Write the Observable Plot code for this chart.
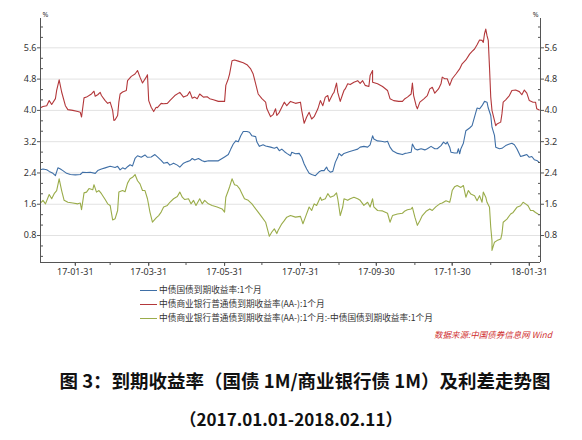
<!DOCTYPE html>
<html><head><meta charset="utf-8">
<script src="https://cdn.jsdelivr.net/npm/d3@7"></script>
<script src="https://cdn.jsdelivr.net/npm/@observablehq/plot@0.6"></script>
<style>
body{margin:0;background:#fff;}
#wrap{position:relative;width:582px;height:440px;overflow:hidden;background:#fff;font-family:"Noto Sans CJK SC","Noto Sans",sans-serif;}
#chart{position:absolute;left:0;top:0;}
.leg{position:absolute;left:140px;font-size:8.7px;line-height:10px;color:#333;white-space:nowrap;display:flex;align-items:center;}
.leg i{display:inline-block;width:17px;height:0;border-top:1px solid;margin-right:2px;}
#src{position:absolute;right:30px;top:328px;font-size:8.5px;color:#d03030;font-style:italic;white-space:nowrap;}
.ttl{position:absolute;left:0;width:582px;text-align:center;font-weight:bold;color:#111;white-space:nowrap;}
</style></head>
<body><div id="wrap"><div id="chart"></div></div>
<script>
// Day numbers are days counted in 2017 (1 = 2017-01-01; 366 = 2018-01-01)
const seriesNames = [
  "中债国债到期收益率:1个月",
  "中债商业银行普通债到期收益率(AA-):1个月",
  "中债商业银行普通债到期收益率(AA-):1个月:-中债国债到期收益率:1个月"
];
const seriesColors = ["#3f6fa6", "#b3383b", "#9aac4a"];

const govt1M = [[3,2.48],[5,2.50],[8,2.48],[10,2.44],[13,2.39],[15,2.33],[17,2.53],[19,2.50],[21,2.46],[24,2.39],[27,2.36],[31,2.35],[35,2.36],[37,2.42],[40,2.41],[43,2.42],[47,2.39],[49,2.46],[52,2.50],[55,2.53],[59,2.57],[63,2.54],[65,2.57],[67,2.48],[69,2.53],[71,2.50],[73,2.56],[75,2.61],[77,2.58],[79,2.77],[81,2.84],[84,2.80],[87,2.86],[89,2.80],[92,2.81],[95,2.87],[97,2.81],[100,2.72],
[102,2.65],[105,2.67],[107,2.60],[110,2.65],[113,2.60],[115,2.55],[118,2.65],[121,2.69],[123,2.71],[125,2.77],[127,2.73],[130,2.77],[133,2.71],[135,2.69],[138,2.71],[142,2.71],[146,2.71],[149,2.77],[151,2.81],[154,2.87],[156,3.01],[158,3.14],[160,3.22],[162,3.20],[164,3.35],[166,3.46],[169,3.46],[171,3.44],[173,3.35],[176,3.33],[177,3.19],[179,3.08],[182,3.12],[184,3.09],[188,3.06],[191,3.03],[193,3.06],[195,2.97],[197,3.01],[199,2.95],
[201,2.90],[204,2.84],[205,2.93],[208,2.89],[211,2.90],[213,2.80],[215,2.63],[217,2.50],[219,2.39],[221,2.36],[224,2.33],[227,2.43],[229,2.46],[231,2.46],[233,2.55],[234,2.48],[236,2.42],[238,2.44],[240,2.67],[242,2.81],[243,2.90],[245,2.84],[247,2.90],[251,2.94],[255,2.98],[258,3.01],[260,3.06],[263,3.08],[266,3.06],[268,3.12],[270,3.35],[271,3.27],[274,3.22],[277,3.21],[280,3.19],[282,3.21],[284,3.06],[286,2.97],[290,2.90],[294,2.87],[296,2.90],
[298,2.91],[301,2.93],[302,3.14],[304,3.02],[306,2.99],[309,3.02],[312,2.99],[314,3.02],[317,3.08],[320,3.02],[322,3.02],[325,3.10],[327,3.19],[329,3.14],[330,3.19],[332,3.06],[333,2.93],[336,2.91],[338,2.91],[339,3.02],[340,2.89],[341,3.02],[343,3.16],[345,3.48],[348,3.55],[350,3.61],[353,3.95],[354,4.06],[356,4.04],[358,4.12],[360,4.23],[362,4.21],[363,4.06],[365,3.87],[366,3.57],[368,3.36],[369,3.06],[372,3.02],[374,3.03],[377,3.10],[380,3.14],[382,3.16],[384,3.12],[386,3.02],[389,2.82],[392,2.85],[394,2.87],[396,2.80],[398,2.82],[400,2.74],[402,2.72],[404,2.67]];

const bank1M = [[3,4.07],[5,4.10],[8,4.12],[10,4.25],[12,4.15],[15,4.30],[16,4.51],[18,4.78],[20,4.47],[23,4.12],[25,4.02],[29,4.00],[33,3.97],[35,3.95],[36,3.83],[38,4.32],[40,4.34],[43,4.40],[44,4.42],[46,4.49],[47,4.36],[49,4.40],[51,4.46],[52,4.38],[55,4.25],[57,4.18],[59,4.21],[61,4.00],[62,3.74],[63,3.76],[65,3.87],[66,4.21],[67,4.42],[69,4.47],[72,4.51],[73,4.76],[76,4.87],[79,4.93],[81,5.02],[83,4.85],[85,4.70],[88,4.85],[89,4.91],[90,4.25],[92,4.08],[94,3.97],[96,4.08],[97,4.07],[100,4.18],
[102,4.17],[105,4.18],[107,4.25],[111,4.38],[115,4.46],[118,4.34],[121,4.38],[123,4.48],[125,4.31],[127,4.34],[129,4.30],[131,4.42],[134,4.34],[137,4.35],[139,4.30],[142,4.27],[146,4.23],[151,4.23],[152,4.64],[154,4.81],[155,4.93],[157,5.27],[159,5.29],[162,5.26],[166,5.22],[169,5.17],[172,5.06],[174,4.93],[176,4.68],[178,4.42],[181,4.30],[184,4.21],[185,4.04],[188,3.84],[190,3.89],[192,4.04],[193,3.87],[195,3.95],[197,4.08],[199,4.21],
[201,4.12],[204,4.23],[208,4.18],[212,4.21],[213,4.00],[215,3.67],[217,3.83],[219,3.95],[221,3.78],[223,3.84],[226,4.04],[228,4.25],[230,4.12],[232,4.34],[234,4.38],[235,4.23],[238,4.42],[239,4.46],[241,4.70],[242,4.46],[244,4.23],[246,4.42],[247,4.51],[248,4.55],[250,4.68],[252,4.66],[255,4.72],[258,4.76],[260,4.69],[262,4.76],[264,4.64],[267,4.61],[268,4.89],[270,5.02],[270,4.72],[274,4.68],[278,4.61],[282,4.51],[284,4.30],[287,4.25],[291,4.23],[294,4.23],[296,4.30],
[298,4.34],[301,4.42],[302,4.70],[303,4.38],[305,4.12],[306,4.04],[308,4.21],[311,4.29],[314,4.38],[316,4.55],[318,4.59],[320,4.44],[323,4.55],[325,4.68],[326,4.85],[328,4.81],[330,4.81],[332,4.64],[334,4.81],[337,4.93],[340,5.06],[342,5.19],[345,5.29],[348,5.44],[350,5.51],[352,5.57],[354,5.68],[356,5.80],[358,5.79],[359,5.74],[360,5.96],[361,6.08],[362,5.91],[363,5.79],[364,5.10],[365,4.34],[366,4.00],[368,3.74],[369,3.61],[370,3.65],[373,3.70],[374,3.91],[375,4.21],[377,4.27],[380,4.38],[382,4.51],[385,4.52],[388,4.48],[390,4.40],[392,4.52],[394,4.44],[396,4.25],[399,4.21],[401,4.21],[402,4.04],[404,4.01]];

const spread1M = [[3,1.63],[5,1.70],[7,1.61],[10,1.85],[12,1.74],[14,1.87],[16,1.95],[18,2.25],[20,1.95],[22,1.70],[25,1.65],[29,1.63],[33,1.61],[35,1.63],[36,1.46],[38,1.89],[40,1.91],[42,2.00],[45,1.97],[46,2.10],[48,1.91],[50,1.95],[52,1.87],[55,1.72],[57,1.61],[59,1.57],[61,1.20],[63,1.23],[65,1.44],[66,1.91],[69,1.95],[71,1.92],[73,2.14],[75,2.25],[77,2.29],[79,2.36],[81,2.20],[83,2.12],[85,1.95],[87,1.95],[89,1.74],[91,1.40],[93,1.14],[96,1.25],[98,1.31],[100,1.40],
[102,1.53],[105,1.57],[107,1.65],[110,1.74],[113,1.80],[115,1.91],[117,1.78],[119,1.72],[122,1.74],[124,1.61],[126,1.70],[128,1.57],[131,1.74],[133,1.61],[135,1.70],[138,1.61],[141,1.57],[145,1.53],[149,1.48],[151,1.40],[152,1.78],[154,1.95],[155,2.04],[157,2.25],[159,2.10],[161,2.08],[163,2.00],[165,1.87],[167,1.74],[170,1.70],[173,1.61],[176,1.48],[178,1.40],[181,1.27],[184,1.14],[185,1.02],[187,0.78],[189,0.89],[191,0.97],[193,0.85],[194,0.93],[197,1.10],[199,1.18],
[201,1.27],[204,1.31],[208,1.27],[212,1.29],[214,1.10],[216,1.27],[219,1.53],[221,1.44],[223,1.61],[225,1.57],[228,1.78],[229,1.70],[232,1.74],[234,1.87],[236,1.78],[239,1.82],[241,1.89],[242,1.74],[244,1.31],[246,1.53],[247,1.74],[250,1.70],[252,1.74],[255,1.78],[258,1.74],[260,1.70],[263,1.57],[266,1.65],[268,1.53],[270,1.74],[271,1.53],[274,1.44],[278,1.43],[282,1.37],[284,1.14],[286,1.31],[290,1.35],[294,1.37],[296,1.43],
[298,1.46],[301,1.48],[302,1.52],[304,1.27],[306,1.06],[308,1.18],[310,1.31],[313,1.42],[316,1.48],[318,1.44],[321,1.54],[324,1.61],[326,1.63],[329,1.69],[332,1.65],[333,1.78],[334,1.95],[336,2.05],[338,2.08],[341,2.03],[343,2.08],[345,1.78],[347,1.95],[349,1.86],[352,1.82],[354,1.69],[356,1.82],[358,1.65],[359,1.91],[361,1.78],[362,1.65],[364,1.52],[365,1.01],[366,0.67],[366,0.42],[368,0.63],[370,0.67],[373,0.71],[374,0.84],[375,1.14],[378,1.22],[381,1.35],[383,1.39],[386,1.52],[389,1.56],[391,1.65],[393,1.61],[395,1.56],[397,1.44],[399,1.44],[401,1.39],[403,1.35]];

const yMajorTicks = [0.8, 1.6, 2.4, 3.2, 4.0, 4.8, 5.6];
const yMinorTicks = [0.267, 0.533, 1.067, 1.333, 1.867, 2.133, 2.667, 2.933, 3.467, 3.733, 4.267, 4.533, 5.067, 5.333, 5.867, 6.133];
const xLabelDates = ["2017-01-31","2017-03-31","2017-05-31","2017-07-31","2017-09-30","2017-11-30","2018-01-31"];
const xMonthEnds = ["2017-01-31","2017-02-28","2017-03-31","2017-04-30","2017-05-31","2017-06-30","2017-07-31","2017-08-31","2017-09-30","2017-10-31","2017-11-30","2017-12-31","2018-01-31"];
const xDomain = ["2017-01-03", "2018-02-09"];
const yDomain = [0.11, 6.35];
const titleText = "图 3：到期收益率（国债 1M/商业银行债 1M）及利差走势图";
const subtitleText = "（2017.01.01-2018.02.11）";
const sourceText = "数据来源:中国债券信息网 Wind";

const parse = s => { const [y,m,d] = s.split("-").map(Number); return new Date(y, m-1, d); };
const toRows = (arr, name) => arr.map(([d, v]) => ({date: new Date(2017, 0, d), value: v, name}));
const rows = [
  ...toRows(govt1M, seriesNames[0]),
  ...toRows(bank1M, seriesNames[1]),
  ...toRows(spread1M, seriesNames[2])
];
const fmt = d3.timeFormat("%y-%m-%d");
const tickColor = "#555";

const chart = Plot.plot({
  width: 582, height: 284,
  marginLeft: 40, marginRight: 42, marginTop: 18, marginBottom: 22,
  style: {fontFamily: "'Noto Sans', sans-serif", fontSize: "9px", color: "#333", background: "#fff"},
  x: {type: "time", domain: xDomain.map(parse)},
  y: {domain: yDomain},
  color: {domain: seriesNames, range: seriesColors},
  marks: [
    Plot.gridY(yMajorTicks, {stroke: "#e2e2e2", strokeOpacity: 1}),
    Plot.line(rows, {x: "date", y: "value", z: "name", stroke: "name", strokeWidth: 1.1}),
    Plot.ruleX([parse(xDomain[0]), parse(xDomain[1])], {stroke: tickColor}),
    Plot.ruleY([yDomain[0]], {stroke: tickColor}),
    Plot.axisY({anchor: "left", ticks: yMajorTicks, tickSize: 3, tickPadding: 1, tickFormat: d => d.toFixed(1), label: null, stroke: tickColor, fill: "#333"}),
    Plot.axisY({anchor: "left", ticks: yMinorTicks, tickSize: -3, tickFormat: () => "", label: null, stroke: tickColor}),
    Plot.axisY({anchor: "right", ticks: yMajorTicks, tickSize: 3, tickPadding: 1, tickFormat: d => d.toFixed(1), label: null, stroke: tickColor, fill: "#333"}),
    Plot.axisY({anchor: "right", ticks: yMinorTicks, tickSize: -3, tickFormat: () => "", label: null, stroke: tickColor}),
    Plot.axisX({ticks: xMonthEnds.map(parse), tickSize: 3, tickFormat: () => "", label: null, stroke: tickColor}),
    Plot.axisX({ticks: xLabelDates.map(parse), tickSize: 4, tickPadding: 2, tickFormat: fmt, label: null, stroke: tickColor, fill: "#333"}),
    Plot.text(["%"], {frameAnchor: "top-left", dx: 2, dy: -6, fontSize: 7, fill: "#333"}),
    Plot.text(["%"], {frameAnchor: "top-right", dx: -2, dy: -6, fontSize: 7, fill: "#333"})
  ]
});
const wrap = document.getElementById("wrap");
document.getElementById("chart").appendChild(chart);

const legTops = [285, 299, 313];
seriesNames.forEach((n, i) => {
  const div = document.createElement("div");
  div.className = "leg";
  div.style.top = legTops[i] + "px";
  const mark = document.createElement("i");
  mark.style.borderColor = seriesColors[i];
  div.appendChild(mark);
  div.appendChild(document.createTextNode(n));
  wrap.appendChild(div);
});
const src = document.createElement("div");
src.id = "src"; src.textContent = sourceText; wrap.appendChild(src);
const t1 = document.createElement("div");
t1.className = "ttl"; t1.style.top = "367px"; t1.style.fontSize = "18.5px"; t1.style.left = "14px"; t1.textContent = titleText; wrap.appendChild(t1);
const t2 = document.createElement("div");
t2.className = "ttl"; t2.style.top = "406px"; t2.style.fontSize = "17px"; t2.textContent = subtitleText; wrap.appendChild(t2);
</script>
</body></html>
